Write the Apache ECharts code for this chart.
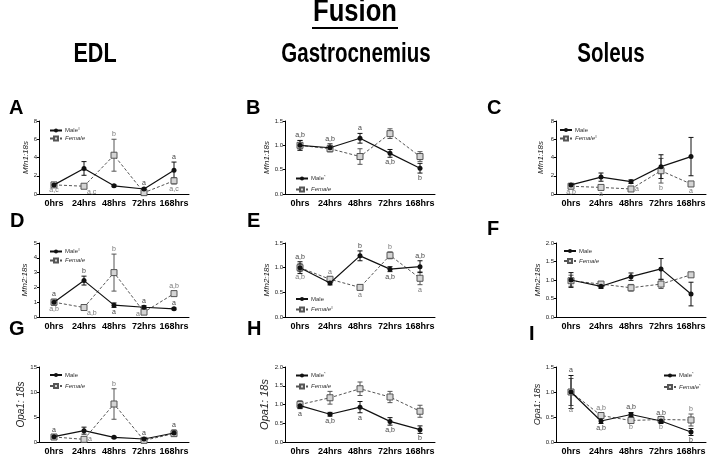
<!DOCTYPE html>
<html><head><meta charset="utf-8">
<script src="https://cdn.jsdelivr.net/npm/echarts@6/dist/echarts.min.js"></script>
<style>html,body{margin:0;padding:0;background:#fff}#c{width:709px;height:456px}</style>
</head><body><div id="c"></div>
<script>
// ---------- DATA ----------
const categories = ['0hrs', '24hrs', '48hrs', '72hrs', '168hrs'];

// A: Mfn1 EDL
const aMale = [1.0, 2.8, 0.9, 0.55, 2.6];
const aMaleErr = [0.1, 0.75, 0.1, 0.1, 0.9];
const aFemale = [1.0, 0.85, 4.25, 0.15, 1.45];
const aFemaleErr = [0.05, 0.1, 1.75, 0.1, 0.35];
const aLetters = [[0, 'F', 'bottom', 'a,c'], [1, 'F', 'br', 'a,c'], [2, 'F', 'top', 'b'], [3, 'M', 'top', 'a'], [4, 'M', 'top', 'a'], [4, 'F', 'bottom', 'a,c']];
// B: Mfn1 Gastrocnemius
const bMale = [1.0, 0.95, 1.145, 0.835, 0.53];
const bMaleErr = [0.1, 0.08, 0.1, 0.08, 0.1];
const bFemale = [1.0, 0.93, 0.77, 1.24, 0.77];
const bFemaleErr = [0.1, 0.06, 0.16, 0.1, 0.1];
const bLetters = [[0, 'M', 'top', 'a,b'], [1, 'M', 'top', 'a,b'], [2, 'M', 'top', 'a'], [3, 'M', 'bottom', 'a,b'], [4, 'M', 'bottom', 'b']];
// C: Mfn1 Soleus
const cMale = [1.0, 1.85, 1.35, 3.0, 4.1];
const cMaleErr = [0.15, 0.45, 0.2, 1.3, 2.1];
const cFemale = [0.85, 0.72, 0.55, 2.55, 1.1];
const cFemaleErr = [0.1, 0.15, 0.1, 1.35, 0.2];
const cLetters = [[0, 'F', 'bottom', 'a,b'], [1, 'F', 'bottom', 'a'], [2, 'F', 'right', 'a'], [3, 'F', 'bottom', 'b'], [4, 'F', 'bottom', 'a']];
// D: Mfn2 EDL
const dMale = [1.0, 2.46, 0.8, 0.66, 0.55];
const dMaleErr = [0.2, 0.3, 0.15, 0.1, 0.06];
const dFemale = [1.0, 0.64, 3.0, 0.33, 1.58];
const dFemaleErr = [0.1, 0.06, 1.25, 0.1, 0.15];
const dLetters = [[0, 'M', 'top', 'a'], [0, 'F', 'bottom', 'a,b'], [1, 'M', 'top', 'b'], [1, 'F', 'br', 'a,b'], [2, 'F', 'top', 'b'], [2, 'M', 'bottom', 'a'], [3, 'M', 'top', 'a'], [3, 'F', 'left', 'a'], [4, 'F', 'top', 'a,b'], [4, 'M', 'top', 'a']];
// E: Mfn2 Gastrocnemius
const eMale = [1.0, 0.69, 1.24, 0.97, 1.02];
const eMaleErr = [0.12, 0.04, 0.1, 0.05, 0.12];
const eFemale = [1.0, 0.765, 0.6, 1.25, 0.785];
const eFemaleErr = [0.08, 0.05, 0.05, 0.07, 0.13];
const eLetters = [[0, 'M', 'top', 'a,b'], [0, 'F', 'bottom', 'a,b'], [1, 'F', 'top', 'a'], [2, 'M', 'top', 'b'], [2, 'F', 'bottom', 'a'], [3, 'F', 'top', 'b'], [3, 'M', 'bottom', 'a,b'], [4, 'M', 'top', 'a,b'], [4, 'F', 'bottom', 'a']];
// F: Mfn2 Soleus
const fMale = [1.0, 0.83, 1.09, 1.3, 0.62];
const fMaleErr = [0.2, 0.06, 0.1, 0.28, 0.32];
const fFemale = [0.98, 0.89, 0.79, 0.89, 1.14];
const fFemaleErr = [0.15, 0.05, 0.09, 0.12, 0.03];
const fLetters = [];
// G: Opa1 EDL
const gMale = [1.07, 2.27, 0.93, 0.6, 1.8];
const gMaleErr = [0.4, 0.7, 0.2, 0.2, 0.6];
const gFemale = [1.0, 0.53, 7.6, 0.33, 1.67];
const gFemaleErr = [0.2, 0.1, 3.05, 0.1, 0.3];
const gLetters = [[0, 'M', 'top', 'a'], [1, 'F', 'right', 'a'], [2, 'F', 'top', 'b'], [3, 'M', 'top', 'a'], [4, 'M', 'top', 'a']];
// H: Opa1 Gastrocnemius
const hMale = [0.97, 0.74, 0.93, 0.55, 0.33];
const hMaleErr = [0.08, 0.05, 0.15, 0.1, 0.1];
const hFemale = [1.0, 1.18, 1.42, 1.2, 0.82];
const hFemaleErr = [0.1, 0.17, 0.18, 0.15, 0.16];
const hLetters = [[0, 'M', 'bottom', 'a'], [1, 'M', 'bottom', 'a,b'], [2, 'M', 'bottom', 'a'], [3, 'M', 'bottom', 'a,b'], [4, 'M', 'bottom', 'b']];
// I: Opa1 Soleus
const iMale = [1.0, 0.42, 0.55, 0.42, 0.2];
const iMaleErr = [0.33, 0.05, 0.04, 0.05, 0.07];
const iFemale = [1.0, 0.53, 0.43, 0.45, 0.44];
const iFemaleErr = [0.27, 0.05, 0.04, 0.05, 0.12];
const iLetters = [[0, 'M', 'top', 'a'], [0, 'F', 'bottom', 'a'], [1, 'F', 'top', 'a,b'], [1, 'M', 'bottom', 'a,b'], [2, 'M', 'top', 'a,b'], [2, 'F', 'bottom', 'b'], [3, 'M', 'top', 'a,b'], [3, 'F', 'bottom', 'b'], [4, 'F', 'top', 'b'], [4, 'M', 'bottom', 'b']];

// y axis scales and names
const yMaxes = [8, 1.5, 8, 5, 1.5, 2, 15, 2, 1.5];
const yIntervals = [2, 0.5, 2, 1, 0.5, 0.5, 5, 0.5, 0.5];
const yNames = ['Mfn1:18s', 'Mfn1:18s', 'Mfn1:18s', 'Mfn2:18s', 'Mfn2:18s', 'Mfn2:18s', 'Opa1: 18s', 'Opa1: 18s', 'Opa1: 18s'];
const maleMarks = ['#', '*', '', '#', '', '', '', '*', '*'];
const femaleMarks = ['', '', '#', '', '#', '', '', '', '*'];
const panelKeys = ['A', 'B', 'C', 'D', 'E', 'F', 'G', 'H', 'I'];
const mainTitle = 'Fusion';
const columnTitles = ['EDL', 'Gastrocnemius', 'Soleus'];

// ---------- LAYOUT ----------
const panels = [
  {m: aMale, me: aMaleErr, f: aFemale, fe: aFemaleErr, l: aLetters},
  {m: bMale, me: bMaleErr, f: bFemale, fe: bFemaleErr, l: bLetters},
  {m: cMale, me: cMaleErr, f: cFemale, fe: cFemaleErr, l: cLetters},
  {m: dMale, me: dMaleErr, f: dFemale, fe: dFemaleErr, l: dLetters},
  {m: eMale, me: eMaleErr, f: eFemale, fe: eFemaleErr, l: eLetters},
  {m: fMale, me: fMaleErr, f: fFemale, fe: fFemaleErr, l: fLetters},
  {m: gMale, me: gMaleErr, f: gFemale, fe: gFemaleErr, l: gLetters},
  {m: hMale, me: hMaleErr, f: hFemale, fe: hFemaleErr, l: hLetters},
  {m: iMale, me: iMaleErr, f: iFemale, fe: iFemaleErr, l: iLetters}
];
const layout = [
  {left: 39, top: 121, h: 73, gap: 8, nfs: 8, lg: {left: 44, top: 122, gap: 2}},
  {left: 285, top: 121, h: 73, gap: 13, nfs: 8, lg: {left: 290, top: 170, gap: 5}},
  {left: 556, top: 121, h: 73, gap: 11, nfs: 8, lg: {left: 554, top: 122, gap: 2}},
  {left: 39, top: 243, h: 74, gap: 10, nfs: 8, lg: {left: 44, top: 243, gap: 3}},
  {left: 285, top: 243, h: 74, gap: 13, nfs: 8, lg: {left: 290, top: 291, gap: 4}},
  {left: 556, top: 243, h: 74, gap: 9, nfs: 8, lg: {left: 558, top: 243, gap: 4}},
  {left: 39, top: 367, h: 75, gap: 11, nfs: 10, lg: {left: 44, top: 367, gap: 5}},
  {left: 285, top: 367, h: 75, gap: 12, nfs: 11, lg: {left: 290, top: 367, gap: 5}},
  {left: 556, top: 367, h: 75, gap: 12, nfs: 9, lg: {left: 658, top: 367, gap: 5}}
];

const MALE_C = '#111';
const FEMALE_C = '#555';
const SANS = '"Liberation Sans", Arial, sans-serif';

function errRenderer(color) {
  return function (params, api) {
    const x = api.value(0);
    const lo = api.coord([x, api.value(1)]);
    const hi = api.coord([x, api.value(2)]);
    const w = 2.5;
    const st = {stroke: color, lineWidth: 1};
    return {type: 'group', children: [
      {type: 'line', shape: {x1: lo[0], y1: lo[1], x2: hi[0], y2: hi[1]}, style: st},
      {type: 'line', shape: {x1: lo[0] - w, y1: lo[1], x2: lo[0] + w, y2: lo[1]}, style: st},
      {type: 'line', shape: {x1: hi[0] - w, y1: hi[1], x2: hi[0] + w, y2: hi[1]}, style: st}
    ]};
  };
}

function letterRenderer(letters) {
  return function (params, api) {
    const L = letters[params.dataIndex];
    const p = api.coord([api.value(0), api.value(1)]);
    const side = L[2];
    let x = p[0], y = p[1], align = 'center', va = 'middle';
    if (side === 'top') { y -= 1.5; va = 'bottom'; }
    else if (side === 'bottom') { y += 1.5; va = 'top'; }
    else if (side === 'right') { x += 4; align = 'left'; }
    else if (side === 'left') { x -= 4; align = 'right'; y += 2; }
    else if (side === 'br') { x += 3; y += 1; align = 'left'; va = 'top'; }
    return {type: 'text', x: x, y: y, style: {text: L[3], fontSize: 7, fontFamily: SANS,
      fill: L[1] === 'M' ? '#444' : '#777', align: align, verticalAlign: va}};
  };
}

const grid = [], xAxis = [], yAxis = [], series = [], legend = [];
panels.forEach((p, i) => {
  const L = layout[i];
  const key = panelKeys[i];
  grid.push({left: L.left, top: L.top, width: 150, height: L.h});
  xAxis.push({type: 'category', gridIndex: i, data: categories, boundaryGap: true,
    axisLine: {lineStyle: {color: '#000', width: 1}},
    axisTick: {alignWithLabel: true, length: 3, lineStyle: {color: '#000'}},
    axisLabel: {fontSize: 9, fontWeight: 'bold', color: '#000', margin: 5, fontFamily: SANS, interval: 0, hideOverlap: false}});
  const mx = yMaxes[i];
  yAxis.push({type: 'value', gridIndex: i, min: 0, max: mx, interval: yIntervals[i],
    axisLine: {show: true, lineStyle: {color: '#000', width: 1}},
    axisTick: {show: true, length: 2, lineStyle: {color: '#000'}},
    splitLine: {show: false},
    axisLabel: {fontSize: 6, color: '#222', margin: 2, fontFamily: SANS,
      formatter: v => (mx <= 2 ? v.toFixed(1) : String(v))},
    name: yNames[i], nameLocation: 'middle', nameGap: L.gap,
    nameTextStyle: {fontSize: L.nfs, fontStyle: 'italic', color: '#222', fontFamily: SANS}});
  const mName = key + ':Male', fName = key + ':Female';
  series.push({type: 'custom', xAxisIndex: i, yAxisIndex: i, renderItem: errRenderer(FEMALE_C), z: 1,
    data: p.f.map((v, k) => [k, v - p.fe[k], v + p.fe[k]]), silent: true});
  series.push({type: 'custom', xAxisIndex: i, yAxisIndex: i, renderItem: errRenderer(MALE_C), z: 1,
    data: p.m.map((v, k) => [k, v - p.me[k], v + p.me[k]]), silent: true});
  series.push({type: 'line', name: fName, xAxisIndex: i, yAxisIndex: i, data: p.f, z: 2,
    symbol: 'rect', symbolSize: 6, showAllSymbol: true,
    lineStyle: {color: FEMALE_C, width: 1, type: [3, 2]},
    itemStyle: {color: '#d4d4d4', borderColor: '#555', borderWidth: 1}});
  series.push({type: 'line', name: mName, xAxisIndex: i, yAxisIndex: i, data: p.m, z: 3,
    symbol: 'circle', symbolSize: 5, showAllSymbol: true,
    lineStyle: {color: MALE_C, width: 1.2},
    itemStyle: {color: MALE_C}});
  if (p.l.length) {
    series.push({type: 'custom', xAxisIndex: i, yAxisIndex: i, renderItem: letterRenderer(p.l), z: 4, silent: true,
      data: p.l.map(t => {
        const mean = t[1] === 'M' ? p.m[t[0]] : p.f[t[0]];
        const err = t[1] === 'M' ? p.me[t[0]] : p.fe[t[0]];
        const up = (t[2] === 'top');
        const anchor = (t[2] === 'right' || t[2] === 'left') ? mean : (up ? mean + err : mean - err);
        return [t[0], anchor];
      })});
  }
  const mm = maleMarks[i], fm = femaleMarks[i];
  legend.push({orient: 'vertical', left: L.lg.left, top: L.lg.top, itemGap: L.lg.gap,
    itemWidth: 12, itemHeight: 5, data: [mName, fName], selectedMode: false,
    formatter: n => n.endsWith('Male') && !n.endsWith('Female')
      ? '{m|Male}' + (mm ? '{s|' + mm + '}' : '')
      : '{f|Female}' + (fm ? '{s|' + fm + '}' : ''),
    textStyle: {fontSize: 6, color: '#333', fontFamily: SANS, padding: [0, 0, 0, -2],
      rich: {m: {fontSize: 6, color: '#333'}, f: {fontSize: 6, color: '#333', fontStyle: 'italic'},
        s: {fontSize: 4, color: '#333', verticalAlign: 'top', padding: [0, 0, 3, 0]}}}});
});

const titles = [];
const letterPos = [[4, 93], [241, 93], [482, 93], [5, 206], [242, 206], [482, 214], [4, 314], [242, 314], [524, 319]];
panelKeys.forEach((k, i) => titles.push({text: k, left: letterPos[i][0], top: letterPos[i][1],
  textStyle: {fontSize: 20, fontWeight: 'bold', fontFamily: SANS, color: '#000'}}));

function headText(txt, cx, y, size, sx) {
  return {type: 'text', x: cx, y: y, scaleX: sx, originX: 0, style: {text: txt, fontSize: size, fontWeight: 'bold',
    fontFamily: SANS, fill: '#000', align: 'center', verticalAlign: 'top'}};
}
const graphics = [
  headText(mainTitle, 355, -4, 32, 0.8),
  headText(columnTitles[0], 95, 41, 27, 0.8),
  headText(columnTitles[1], 356, 41, 27, 0.76),
  headText(columnTitles[2], 611, 41, 27, 0.76),
  {type: 'line', shape: {x1: 312, y1: 28, x2: 398, y2: 28}, style: {stroke: '#000', lineWidth: 2}}
];

const chart = echarts.init(document.getElementById('c'), null, {renderer: 'canvas'});
chart.setOption({
  animation: false,
  backgroundColor: '#fff',
  title: titles,
  grid: grid, xAxis: xAxis, yAxis: yAxis, series: series, legend: legend,
  graphic: graphics
});
</script></body></html>
